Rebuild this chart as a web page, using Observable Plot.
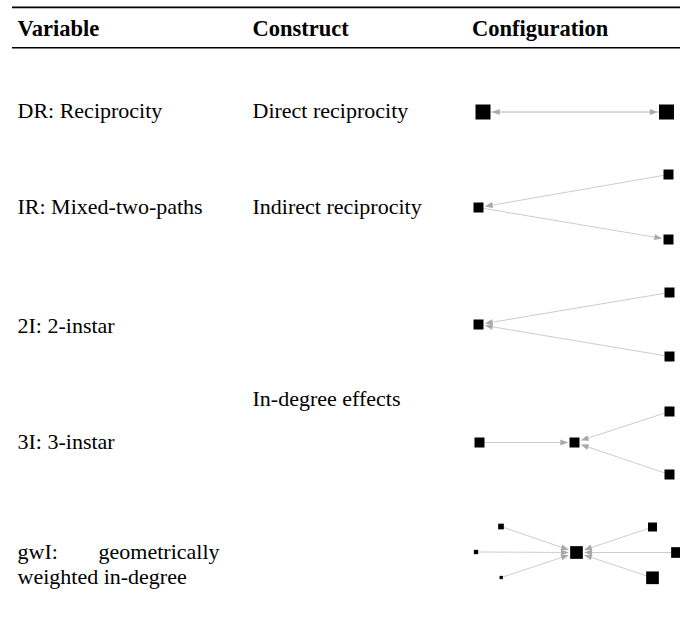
<!DOCTYPE html>
<html>
<head>
<meta charset="utf-8">
<script src="https://cdn.jsdelivr.net/npm/d3@7"></script>
<script src="https://cdn.jsdelivr.net/npm/@observablehq/plot@0.6"></script>
<style>
  html, body { margin: 0; padding: 0; background: #fff; }
  #chart svg { display: block; }
</style>
</head>
<body>
<div id="chart"></div>
<script>
// ---------- table content ----------
const headers = ["Variable", "Construct", "Configuration"];
const variables = [
  "DR: Reciprocity",
  "IR: Mixed-two-paths",
  "2I: 2-instar",
  "3I: 3-instar",
  "gwI: geometrically\nweighted in-degree"
];
const constructs = ["Direct reciprocity", "Indirect reciprocity", "In-degree effects"];

// ---------- configuration graphs (node id, horizontal place, vertical offset from row centre, square side) ----------
const graphNodes = [
  // DR
  [["a", 482.5, 0, 15], ["b", 666, 0, 15]],
  // IR
  [["a", 668, -33, 10], ["b", 478, 0, 10], ["c", 668, 32, 10]],
  // 2I
  [["a", 669, -32, 10], ["b", 478, 0, 10], ["c", 669, 32, 10]],
  // 3I
  [["a", 479, 0, 10], ["b", 574, 0, 10], ["c", 669, -31, 10], ["d", 669, 32, 10]],
  // gwI
  [["m", 576, 0, 12.7], ["tl", 500.5, -26, 5.7], ["ml", 475.5, -0.5, 4.3], ["bl", 500.7, 25, 3.3],
   ["tr", 652, -25.5, 9], ["mr", 676, 0, 10.7], ["br", 652, 25.3, 12.7]]
];
const graphEdges = [
  [["a", "b"], ["b", "a"]],
  [["a", "b"], ["b", "c"]],
  [["a", "b"], ["c", "b"]],
  [["a", "b"], ["c", "b"], ["d", "b"]],
  [["tl", "m"], ["ml", "m"], ["bl", "m"], ["tr", "m"], ["mr", "m"], ["br", "m"]]
];

// ---------- layout ----------
const W = 680, H = 632;
const colX = [17, 252, 471.5];
const colRight = 219;
const headerY = 28;
const textRowY = [110, 206.5, 325, 441, 551];
const graphRowY = [111.5, 207, 324, 442, 552];
const constructY = [110, 206.5, 398];
const lineHeight = 25;
const bodySize = 22, headSize = 22.5;
const headLen = 8, headR = 3, gap = 1.2;

// ---------- derived mark data ----------
const headerData = headers.map((t, i) => ({t, x: colX[i], y: headerY}));

const leftText = [], rightText = [];
variables.forEach((v, i) => {
  const lines = v.split("\n");
  lines.forEach((line, j) => {
    const y = textRowY[i] + j * lineHeight;
    if (lines.length > 1 && j < lines.length - 1) {
      // justified line: first word flush left, rest flush right
      const words = line.split(" ");
      leftText.push({t: words[0], x: colX[0], y});
      rightText.push({t: words.slice(1).join(" "), x: colRight, y});
    } else {
      leftText.push({t: line, x: colX[0], y});
    }
  });
});
constructs.forEach((c, i) => leftText.push({t: c, x: colX[1], y: constructY[i]}));

const nodeData = [], linkData = [], headData = [];
graphNodes.forEach((ns, r) => {
  const byId = new Map();
  ns.forEach(([id, x, dy, s]) => {
    const n = {id, x, y: graphRowY[r] + dy, s};
    byId.set(id, n);
    nodeData.push(n);
  });
  graphEdges[r].forEach(([from, to]) => {
    const a = byId.get(from), b = byId.get(to);
    const dx = b.x - a.x, dy = b.y - a.y, L = Math.hypot(dx, dy);
    const ux = dx / L, uy = dy / L;
    const half = b.s / 2 / Math.max(Math.abs(ux), Math.abs(uy));
    const tip = {x: b.x - ux * (half + gap), y: b.y - uy * (half + gap)};
    const angle = Math.atan2(dx, -dy) * 180 / Math.PI;
    headData.push({x: tip.x, y: tip.y, angle});
    linkData.push({x1: a.x, y1: a.y, x2: tip.x - ux * headLen * 0.6, y2: tip.y - uy * headLen * 0.6});
  });
});

const serif = "'Liberation Serif', 'Times New Roman', serif";

const chart = Plot.plot({
  width: W,
  height: H,
  margin: 0,
  x: {domain: [0, W], range: [0, W], axis: null},
  y: {domain: [0, H], range: [0, H], axis: null},
  r: {type: "identity"},
  style: {background: "#fff", overflow: "visible"},
  marks: [
    Plot.ruleY([6.8], {x1: 12, x2: W, stroke: "#000", strokeWidth: 1.7}),
    Plot.ruleY([47.3], {x1: 12, x2: W, stroke: "#000", strokeWidth: 1.4}),
    Plot.text(headerData, {x: "x", y: "y", text: "t", textAnchor: "start", fontFamily: serif,
      fontSize: headSize, fontWeight: "bold", fill: "#000"}),
    Plot.text(leftText, {x: "x", y: "y", text: "t", textAnchor: "start", fontFamily: serif,
      fontSize: bodySize, fill: "#000"}),
    Plot.text(rightText, {x: "x", y: "y", text: "t", textAnchor: "end", fontFamily: serif,
      fontSize: bodySize, fill: "#000"}),
    Plot.link(linkData, {x1: "x1", y1: "y1", x2: "x2", y2: "y2", stroke: "#cccccc", strokeWidth: 1}),
    Plot.vector(headData, {x: "x", y: "y", rotate: "angle", length: headLen, r: headR, shape: "spike",
      anchor: "end", fill: "#aaaaaa", stroke: "none"}),
    Plot.dot(nodeData, {x: "x", y: "y", r: (d) => d.s / Math.sqrt(Math.PI), symbol: "square",
      fill: "#000", stroke: "none"})
  ]
});
document.getElementById("chart").appendChild(chart);
</script>
</body>
</html>
